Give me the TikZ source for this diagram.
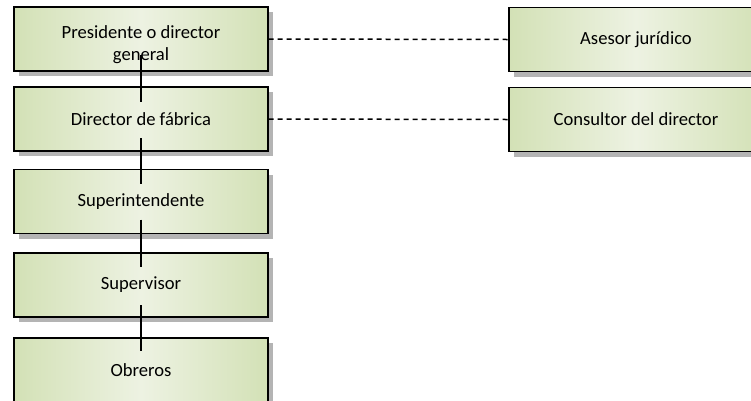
\documentclass[tikz,border=0pt]{standalone}
\usepackage{fontspec}
\setmainfont{Carlito}
\usepackage{tikz}
\usetikzlibrary{calc,positioning,shapes,shadows}
\definecolor{boxdark}{HTML}{D3E1B6}
\definecolor{boxlight}{HTML}{EDF2E2}
\definecolor{shadowgray}{HTML}{B4B4B4}

\begin{document}
\begin{tikzpicture}[x=1pt,y=1pt]
          \tikzstyle{onode} = [line width=1.3pt, draw=black, rectangle, minimum width=254pt, minimum height=64pt, inner sep=2pt, align=center,
            shading angle=60, left color=boxdark, right color=boxdark, middle color=boxlight,
            drop shadow={shadow xshift=5pt, shadow yshift=-5pt, fill=shadowgray, opacity=1},
            font=\fontsize{18.6}{21.5}\selectfont]
          \tikzstyle{vline} = [line width=1.3pt, black]
          \tikzstyle{hline} = [line width=1.5pt, black, dash pattern=on 5pt off 4pt]

          \clip (0,0) rectangle (751,-400);

          \node[onode] (pres) at (141,-39) {\rule{0pt}{24pt}Presidente o director\\general};
          \node[onode] (dirf) at (141,-119) {Director de fábrica};
          \node[onode] (supe) at (141,-201.5) {Superintendente};
          \node[onode] (supv) at (141,-285) {Supervisor};
          \node[onode] (obre) at (141,-370) {Obreros};

          \node[onode] (ases) at (636,-39.5) {Asesor jurídico};
          \node[onode] (cons) at (636,-119.5) {Consultor del director};

          % vertical chain
          \draw[vline] ($(pres.center)+(0,-16)$) -- ($(dirf.center)+(0,17)$);
          \draw[vline] ($(dirf.center)+(0,-19)$) -- ($(supe.center)+(0,18)$);
          \draw[vline] ($(supe.center)+(0,-18)$) -- ($(supv.center)+(0,18)$);
          \draw[vline] ($(supv.center)+(0,-20)$) -- ($(obre.center)+(0,19)$);

          % staff links
          \draw[hline] (pres.east) -- (ases.west);
          \draw[hline] (dirf.east) -- (cons.west);
        \end{tikzpicture}
\end{document}
